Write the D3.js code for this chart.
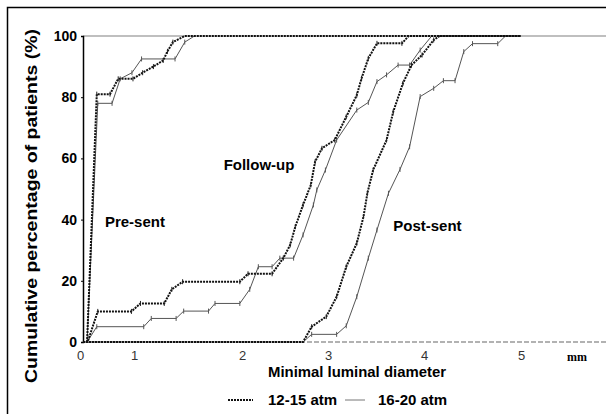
<!DOCTYPE html>
<html lang="en">
<head>
<meta charset="UTF-8">
<title>Minimal luminal diameter</title>
<script src="https://d3js.org/d3.v7.min.js"></script>
<style>
  body { margin: 0; background: #fff; }
  svg { display: block; font-family: "Liberation Sans", Arial, sans-serif; }
</style>
</head>
<body>
<svg id="chart"></svg>
<script>
// tick labels
const xTicks = [0, 1, 2, 3, 4, 5];
const yTicks = [0, 20, 40, 60, 80, 100];

// [mm, cumulative %]
const preSent1215 = [[0.08,0],[0.27,81],[0.53,81],[0.69,86],[0.98,86],[1.08,88],[1.18,90],[1.27,92],[1.31,95],[1.36,98],[1.47,100],[5.0,100]];
const preSent1620 = [[0.08,0],[0.29,78],[0.57,78],[0.73,86],[0.96,88],[1.07,92.5],[1.38,92.5],[1.47,98],[1.56,100]];

const follow1215 = [[0,0],[0.09,0],[0.29,10],[0.95,10],[1.06,12.6],[1.28,12.6],[1.35,17.2],[1.45,19.7],[1.98,19.7],[2.07,22.3],[2.35,22.3],[2.48,27.4],[2.56,31.7],[2.62,37.7],[2.71,44.8],[2.80,51.3],[2.85,58.9],[2.93,63.3],[3.07,66],[3.19,73.6],[3.30,80.7],[3.35,86.2],[3.42,92.7],[3.51,97.6],[3.77,97.6],[3.84,100],[5.0,100]];
const follow1620 = [[0.08,0],[0.27,5],[1.09,5],[1.16,7.7],[1.39,7.7],[1.46,10.1],[1.69,10.1],[1.75,12.6],[1.98,12.6],[2.09,17.2],[2.19,24.6],[2.35,24.6],[2.44,27.4],[2.60,27.4],[2.71,35],[2.83,44.8],[2.87,49.7],[2.97,56.2],[3.09,66],[3.30,75.8],[3.42,78.3],[3.51,85.1],[3.61,87.3],[3.73,90.5],[3.85,90.5],[3.96,95.4],[4.08,100]];

const post1215 = [[0,0],[2.71,0],[2.81,5],[2.98,8.3],[3.09,14.8],[3.19,24.6],[3.30,32.3],[3.37,41],[3.41,48.6],[3.47,56.2],[3.61,66],[3.68,75.3],[3.78,84.5],[3.87,90.5],[3.98,93.8],[4.10,98.7],[4.16,100],[5.0,100]];
const post1620 = [[0,0],[2.71,0],[2.81,2.5],[3.09,2.5],[3.19,5.3],[3.30,14.8],[3.42,27.4],[3.51,36.6],[3.63,48.6],[3.75,56.4],[3.85,63.8],[3.96,80.2],[4.10,82.9],[4.20,85.4],[4.32,85.4],[4.41,94.9],[4.50,97.5],[4.76,97.5],[4.84,100]];

const series1215 = [preSent1215, follow1215, post1215];
const series1620 = [preSent1620, follow1620, post1620];

const labels = [
  {text: "Pre-sent", x: 0.43, y: 37.6},
  {text: "Follow-up", x: 1.83, y: 56.2},
  {text: "Post-sent", x: 3.68, y: 36.3}
];
const legendNames = ["12-15 atm", "16-20 atm"];

const w = 606, h = 414;
const svg = d3.select("#chart").attr("width", w).attr("height", h);

// outer frame (right and bottom edges fall outside the picture)
svg.append("rect")
   .attr("x", 7.5).attr("y", 7.5)
   .attr("width", 700).attr("height", 500)
   .attr("fill", "none").attr("stroke", "#000").attr("stroke-width", 1.5);

// the printed axis is not evenly spaced, so use a piecewise scale
const x = d3.scaleLinear()
            .domain([0, 1, 2, 3, 4, 5, 5.9])
            .range([83, 134, 242, 328, 424, 521, 608]);
const y = d3.scaleLinear().domain([0, 100]).range([342, 36]);

// top gridline at 100%
svg.append("line")
   .attr("x1", x(0)).attr("x2", w)
   .attr("y1", y(100)).attr("y2", y(100))
   .attr("stroke", "#aaa").attr("stroke-width", 1.5);

// x axis
const xAxis = d3.axisBottom(x).tickValues(xTicks).tickSize(0).tickPadding(9).tickFormat(d3.format("d"));
const gx = svg.append("g").attr("transform", "translate(0," + y(0) + ")").call(xAxis);
gx.select(".domain").remove();
gx.append("line")
  .attr("x1", x(0)).attr("x2", w)
  .attr("stroke", "#999").attr("stroke-width", 1.5)
  .attr("stroke-dasharray", "5,2");
gx.selectAll(".tick text")
  .attr("fill", "#333")
  .style("font-size", "13px")
  .attr("dx", (d) => d === 0 ? -3 : 0);

// y axis
const yAxis = d3.axisLeft(y).tickValues(yTicks).tickSize(2).tickPadding(4);
const gy = svg.append("g").attr("transform", "translate(" + x(0) + ",0)").call(yAxis);
gy.select(".domain").attr("stroke", "#000").attr("stroke-width", 1.5);
gy.selectAll(".tick text")
  .attr("fill", "#000")
  .style("font-size", "14px")
  .style("font-weight", "bold");

const line = d3.line().x((d) => x(d[0])).y((d) => y(d[1]));

// small censor ticks at the step points
function censorTicks(s, colour) {
  svg.selectAll(null)
     .data(s.slice(1, -1).filter((d) => d[1] > 0 && d[1] < 100))
     .enter()
     .append("line")
     .attr("x1", (d) => x(d[0])).attr("x2", (d) => x(d[0]))
     .attr("y1", (d) => y(d[1]) - 2.5).attr("y2", (d) => y(d[1]) + 2.5)
     .attr("stroke", colour).attr("stroke-width", 1);
}

// 16-20 atm: thin grey
series1620.forEach((s) => {
  svg.append("path")
     .datum(s)
     .attr("d", line)
     .attr("fill", "none")
     .attr("stroke", "#555")
     .attr("stroke-width", 1);
  censorTicks(s, "#555");
});

// 12-15 atm: heavy dotted
series1215.forEach((s) => {
  svg.append("path")
     .datum(s)
     .attr("d", line)
     .attr("fill", "none")
     .attr("stroke", "#111")
     .attr("stroke-width", 2)
     .attr("stroke-dasharray", "2,1");
  censorTicks(s, "#222");
});

// curve labels
svg.selectAll(".lab")
   .data(labels)
   .enter()
   .append("text")
   .attr("class", "lab")
   .attr("x", (d) => x(d.x))
   .attr("y", (d) => y(d.y))
   .style("font-size", "15px")
   .style("font-weight", "bold")
   .text((d) => d.text);

// axis titles
svg.append("text")
   .attr("transform", "rotate(-90)")
   .attr("x", -206)
   .attr("y", 37)
   .attr("text-anchor", "middle")
   .attr("textLength", 354)
   .attr("lengthAdjust", "spacingAndGlyphs")
   .style("font-size", "17px")
   .style("font-weight", "bold")
   .text("Cumulative percentage of patients (%)");

svg.append("text")
   .attr("x", 357)
   .attr("y", 377)
   .attr("text-anchor", "middle")
   .attr("textLength", 178)
   .attr("lengthAdjust", "spacingAndGlyphs")
   .style("font-size", "15px")
   .style("font-weight", "bold")
   .text("Minimal luminal diameter");

svg.append("text")
   .attr("x", 577)
   .attr("y", 361)
   .attr("text-anchor", "middle")
   .style("font-family", "'Liberation Serif', serif")
   .style("font-size", "12px")
   .style("font-weight", "bold")
   .text("mm");

// legend
const lg = svg.append("g").attr("transform", "translate(0,400)");
lg.append("line")
  .attr("x1", 228).attr("x2", 253)
  .attr("stroke", "#111").attr("stroke-width", 2).attr("stroke-dasharray", "2,1");
lg.append("text").attr("x", 268).attr("y", 5)
  .style("font-size", "15px").style("font-weight", "bold").text(legendNames[0]);
lg.append("line")
  .attr("x1", 345).attr("x2", 365)
  .attr("stroke", "#777").attr("stroke-width", 1);
lg.append("text").attr("x", 378).attr("y", 5)
  .style("font-size", "15px").style("font-weight", "bold").text(legendNames[1]);
</script>
</body>
</html>
